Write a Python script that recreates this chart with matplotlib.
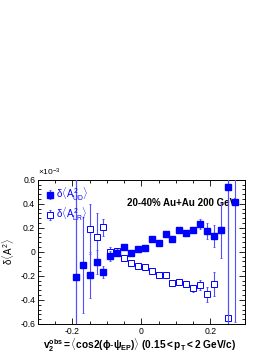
import numpy as np
import matplotlib
matplotlib.use("Agg")
import matplotlib.pyplot as plt
from matplotlib.ticker import MultipleLocator, FixedLocator

plt.rcParams['font.family'] = ['Liberation Sans', 'DejaVu Sans']
plt.rcParams['mathtext.fontset'] = 'custom'
plt.rcParams['mathtext.rm'] = 'Liberation Sans'
plt.rcParams['mathtext.it'] = 'Liberation Sans'
plt.rcParams['mathtext.bf'] = 'Liberation Sans:bold'

# v2obs bin centres
v2obs = [-0.19, -0.17, -0.15, -0.13, -0.11, -0.09, -0.07, -0.05, -0.03, -0.01,
         0.01, 0.03, 0.05, 0.07, 0.09, 0.11, 0.13, 0.15, 0.17, 0.19,
         0.21, 0.23, 0.25, 0.27]

# delta<A^2_UD> (x1e-3), filled squares
ud = [-0.206, -0.110, -0.192, -0.085, -0.165, -0.033, -0.007, 0.039, -0.010, 0.024,
      0.030, 0.110, 0.072, 0.148, 0.110, 0.184, 0.160, 0.186, 0.232, 0.174,
      0.134, 0.180, 0.537, 0.419]
ud_err = [1.0, 0.40, 0.19, 0.10, 0.05, 0.04, 0.03, 0.015, 0.015, 0.015,
          0.015, 0.015, 0.015, 0.015, 0.015, 0.02, 0.02, 0.025, 0.04, 0.065,
          0.09, 0.23, 1.3, 1.0]

# delta<A^2_LR> (x1e-3), open squares
lr = [0.75, np.nan, 0.19, 0.12, 0.205, 0.0, 0.005, -0.055, -0.09, -0.12,
      -0.125, -0.16, -0.19, -0.19, -0.26, -0.255, -0.27, -0.305, -0.275, -0.355,
      -0.27, np.nan, -0.55, np.nan]
lr_err = [1.5, 0.0, 0.21, 0.20, 0.07, 0.04, 0.03, 0.015, 0.015, 0.015,
          0.015, 0.015, 0.015, 0.015, 0.015, 0.02, 0.02, 0.03, 0.04, 0.06,
          0.10, 0.0, 1.3, 0.0]

blue = '#0000ff'

fig = plt.figure(figsize=(2.73, 3.54), dpi=100)
ax = fig.add_axes([0.139, 0.085, 0.758, 0.407])

ax.errorbar(v2obs, lr, yerr=lr_err, fmt='s', color=blue, mfc='white', mec=blue,
            mew=0.7, ms=4.2, ecolor='#5050ff', elinewidth=0.8, capsize=1.0,
            capthick=0.6, label=r'$\delta\langle A^{2}_{LR}\rangle$', zorder=3)
ax.errorbar(v2obs, ud, yerr=ud_err, fmt='s', color=blue, mfc=blue, mec=blue,
            ms=4.3, ecolor='#5050ff', elinewidth=0.8, capsize=1.0,
            capthick=0.6, label=r'$\delta\langle A^{2}_{UD}\rangle$', zorder=4)

ax.set_xlim(-0.3, 0.3)
ax.set_ylim(-0.6, 0.6)
ax.xaxis.set_major_locator(FixedLocator([-0.2, 0.0, 0.2]))
ax.xaxis.set_minor_locator(MultipleLocator(0.05))
ax.yaxis.set_minor_locator(MultipleLocator(0.04))
ax.set_xticklabels(['-0.2', '0', '0.2'])
ax.set_yticks([-0.6, -0.4, -0.2, 0, 0.2, 0.4, 0.6])
ax.set_yticklabels(['-0.6', '-0.4', '-0.2', '0', '0.2', '0.4', '0.6'])
ax.tick_params(which='both', direction='in', top=True, right=True,
               labelsize=6.2, width=0.6, pad=2)
ax.tick_params(which='major', length=4)
ax.tick_params(which='minor', length=2)
for s in ax.spines.values():
    s.set_linewidth(0.7)

h, l = ax.get_legend_handles_labels()
leg = ax.legend(h[::-1], l[::-1], loc='upper left', frameon=False, fontsize=7,
                labelcolor=blue, handletextpad=0.1, handlelength=1.2,
                borderaxespad=0.2, labelspacing=0.3)

ax.text(0.96, 0.84, '20-40% Au+Au 200 GeV', transform=ax.transAxes,
        ha='right', va='center', fontsize=7, fontweight='bold')

fig.text(0.139, 0.497, r'$\times$10$^{-3}$', ha='left', va='bottom', fontsize=6)
fig.text(0.03, 0.29, r'$\delta\langle A^{2}\rangle$', rotation=90,
         ha='center', va='center', fontsize=7)
fig.text(0.51, 0.025,
         r'$\mathbf{v_{2}^{obs} = \langle cos2(\phi\text{-}\psi_{EP})\rangle\ (0.15<p_{T}<2\ GeV/c)}$',
         ha='center', va='center', fontsize=7.3)

fig.savefig('out.png', dpi=100)
